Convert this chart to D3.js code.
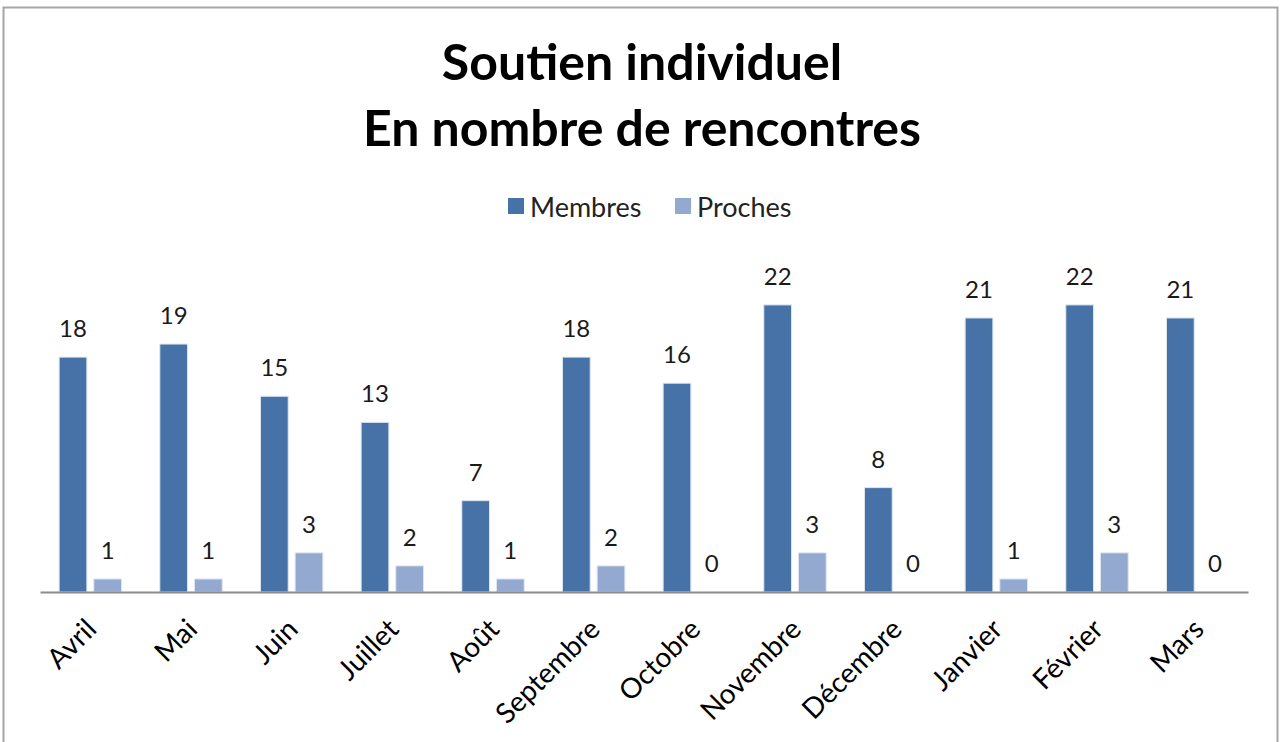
<!DOCTYPE html>
<html><head><meta charset="utf-8">
<script src="https://cdn.jsdelivr.net/npm/d3@7"></script>
<style>body{margin:0;background:#fff}svg{display:block}text{font-family:Lato,"Open Sans",sans-serif}</style>
</head><body><svg id="c" width="1284" height="742"></svg>
<script>
const months = ["Avril","Mai","Juin","Juillet","Août","Septembre","Octobre","Novembre","Décembre","Janvier","Février","Mars"];
const membres = [18,19,15,13,7,18,16,22,8,21,22,21];
const proches = [1,1,3,2,1,2,0,3,0,1,3,0];
const seriesNames = ["Membres","Proches"];
const titleLines = ["Soutien individuel","En nombre de rencontres"];
const colors = ["#4672A8","#93A9D0"];

const svg = d3.select("#c");
svg.append("rect").attr("x",3.5).attr("y",7.5).attr("width",1274).attr("height",780)
  .attr("fill","#fff").attr("stroke","#a6a6a6").attr("stroke-width",2);

svg.selectAll("text.title").data(titleLines).join("text").attr("class","title")
  .attr("x",642).attr("y",(d,i)=>62+i*66).attr("dy","0.36em").attr("text-anchor","middle")
  .attr("font-weight","bold").attr("font-size",50).attr("fill","#000").text(d=>d);

const x0 = d3.scaleBand().domain(months).range([40,1248]).paddingInner(0.38).paddingOuter(0.19);
const x1 = d3.scaleBand().domain(seriesNames).range([0,x0.bandwidth()]).paddingInner(0.2);
const y = d3.scaleLinear().domain([0,25]).range([592,592-25*13.05]);

const data = months.map((m,i)=>({m, vals:[membres[i],proches[i]]}));
const g = svg.selectAll("g.grp").data(data).join("g").attr("class","grp")
  .attr("transform",d=>`translate(${x0(d.m)},0)`);
g.selectAll("rect").data(d=>d.vals.map((v,k)=>({v,s:seriesNames[k],k}))).join("rect")
  .attr("x",d=>x1(d.s)).attr("width",x1.bandwidth())
  .attr("y",d=>y(d.v)).attr("height",d=>y(0)-y(d.v))
  .attr("fill",d=>colors[d.k]).attr("stroke","#dfe6f0").attr("stroke-width",1);
g.selectAll("text").data(d=>d.vals.map((v,k)=>({v,s:seriesNames[k],k}))).join("text")
  .attr("x",d=>x1(d.s)+x1.bandwidth()/2).attr("y",d=>y(d.v)-20)
  .attr("text-anchor","middle").attr("font-size",24).attr("fill","#1a1a1a").text(d=>d.v);

const xAxis = d3.axisBottom(x0).tickSize(0).tickPadding(0);
const ax = svg.append("g").attr("transform","translate(0,592)").call(xAxis);
ax.select(".domain").attr("stroke","#8c8c8c").attr("stroke-width",2);
ax.selectAll(".tick text").attr("font-size",28).attr("fill","#000")
  .attr("font-family","Lato, sans-serif")
  .attr("text-anchor","end").attr("dy","0.35em")
  .attr("transform","translate(1,32) rotate(-45)").attr("y",0).attr("x",0);

const leg = svg.append("g");
const legX = [508,675];
seriesNames.forEach((s,i)=>{
  leg.append("rect").attr("x",legX[i]).attr("y",198).attr("width",16).attr("height",16).attr("fill",colors[i]);
  leg.append("text").attr("x",legX[i]+22).attr("y",207).attr("dy","0.36em").attr("font-size",27).attr("fill","#222").text(s);
});
</script></body></html>
